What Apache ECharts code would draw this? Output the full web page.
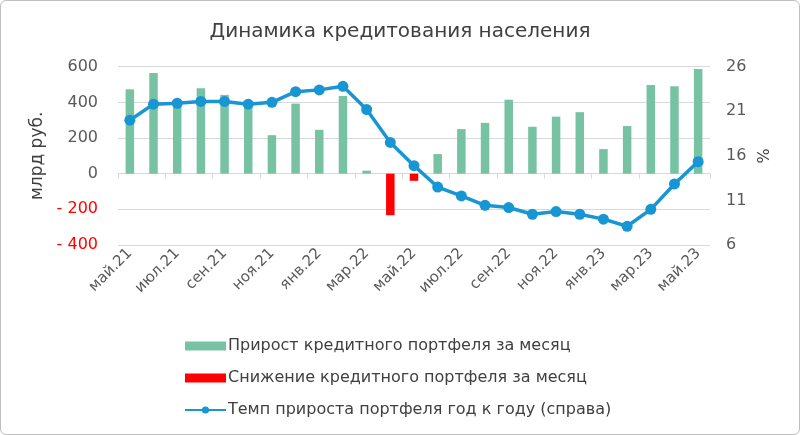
<!DOCTYPE html>
<html><head><meta charset="utf-8">
<script src="https://cdn.jsdelivr.net/npm/echarts@6/dist/echarts.min.js"></script>
<style>
html,body{margin:0;padding:0;background:#fff;}
#wrap{position:relative;width:800px;height:435px;}
#c{width:800px;height:435px;}
#b{position:absolute;left:0;top:0;width:798px;height:433px;border:1px solid #bfbfbf;border-radius:6px;pointer-events:none;}
</style></head>
<body><div id="wrap"><div id="c"></div><div id="b"></div></div>
<script>
const categories = ['май.21','июн.21','июл.21','авг.21','сен.21','окт.21','ноя.21','дек.21','янв.22','фев.22','мар.22','апр.22','май.22','июн.22','июл.22','авг.22','сен.22','окт.22','ноя.22','дек.22','янв.23','фев.23','мар.23','апр.23','май.23'];
const growth = [473,565,395,479,442,395,216,393,246,436,17,null,null,110,250,285,415,263,320,345,138,267,497,490,587];
const decline = [null,null,null,null,null,null,null,null,null,null,null,-233,-40,null,null,null,null,null,null,null,null,null,null,null,null];
const yoy = [20.0,21.8,21.9,22.1,22.1,21.8,22.0,23.2,23.4,23.8,21.2,17.5,14.9,12.5,11.5,10.45,10.2,9.45,9.75,9.45,8.9,8.1,10.0,12.85,15.35];
const leftTicks = {min:-400,max:600,interval:200};
const rightTicks = {min:6,max:26,interval:5};

const FONT = 'DejaVu Sans';
const TXT = '#404040';
const chart = echarts.init(document.getElementById('c'));
chart.setOption({
  animation:false,
  textStyle:{fontFamily:FONT},
  title:{text:'Динамика кредитования населения',left:'center',top:17,
    textStyle:{fontFamily:FONT,fontSize:20,fontWeight:'normal',color:TXT}},
  grid:{left:118,right:90,top:66.7,bottom:190,containLabel:false},
  legend:{orient:'vertical',left:179,top:333,itemGap:16,itemWidth:41,itemHeight:9,
    textStyle:{fontFamily:FONT,fontSize:16,color:TXT,padding:[0,0,0,-3]},
    data:[{name:'Прирост кредитного портфеля за месяц',icon:'rect'},
          {name:'Снижение кредитного портфеля за месяц',icon:'rect'},
          {name:'Темп прироста портфеля год к году (справа)'}]},
  xAxis:[
    {type:'category',data:categories,position:'bottom',axisLine:{show:false,onZero:false},axisTick:{show:false},
     axisLabel:{interval:1,rotate:45,margin:6,fontFamily:FONT,fontSize:15,color:'#595959'},splitLine:{show:false}},
    {type:'category',data:categories,position:'bottom',axisLine:{show:true,onZero:true,onZeroAxisIndex:0,lineStyle:{color:'#d9d9d9',width:1}},
     axisTick:{show:true,interval:1,length:5,lineStyle:{color:'#d9d9d9'}},axisLabel:{show:false},splitLine:{show:false}}
  ],
  yAxis:[
    {type:'value',min:leftTicks.min,max:leftTicks.max,interval:leftTicks.interval,
     name:'млрд руб.',nameLocation:'middle',nameGap:72,nameRotate:90,
     nameTextStyle:{fontFamily:FONT,fontSize:17,color:TXT},
     axisLine:{show:false},axisTick:{show:false},
     axisLabel:{margin:20,fontFamily:FONT,fontSize:16,
       color:v=>v<0?'#ff0000':'#595959',
       formatter:v=>v<0?'- '+Math.abs(v):String(v)},
     splitLine:{lineStyle:{color:'#d9d9d9',width:1}}},
    {type:'value',min:rightTicks.min,max:rightTicks.max,interval:rightTicks.interval,
     name:'%',nameLocation:'middle',nameGap:46,nameRotate:90,
     nameTextStyle:{fontFamily:FONT,fontSize:16,color:TXT},
     axisLine:{show:false},axisTick:{show:false},
     axisLabel:{margin:16,fontFamily:FONT,fontSize:16,color:'#595959'},
     splitLine:{show:false}}
  ],
  series:[
    {name:'Прирост кредитного портфеля за месяц',type:'bar',data:growth,xAxisIndex:0,yAxisIndex:0,
     barWidth:8.5,barGap:'-100%',itemStyle:{color:'#78c2a4'}},
    {name:'Снижение кредитного портфеля за месяц',type:'bar',data:decline,xAxisIndex:0,yAxisIndex:0,
     barWidth:8.5,barGap:'-100%',itemStyle:{color:'#ff0000'}},
    {name:'Темп прироста портфеля год к году (справа)',type:'line',data:yoy,xAxisIndex:0,yAxisIndex:1,
     symbol:'circle',symbolSize:11,z:5,
     lineStyle:{color:'#1796d3',width:3.5},itemStyle:{color:'#1796d3'}}
  ]
});
</script></body></html>
